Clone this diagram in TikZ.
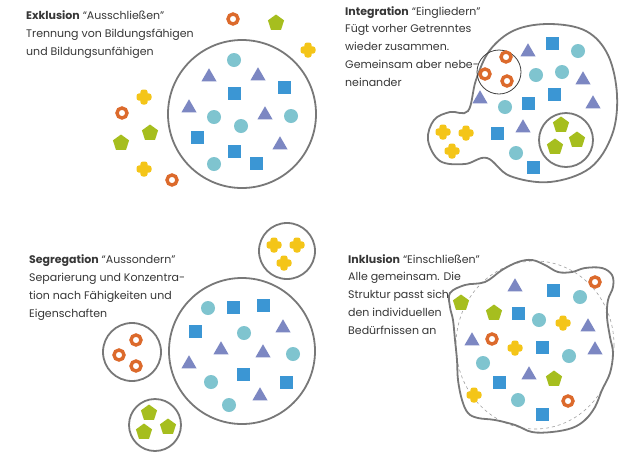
\documentclass[tikz,border=0pt]{standalone}
\usepackage{fontspec}
\setmainfont{Poppins}
\usetikzlibrary{shapes.geometric}
\definecolor{tuerkis}{RGB}{127,196,207}
\definecolor{blau}{RGB}{59,150,212}
\definecolor{lila}{RGB}{124,135,194}
\definecolor{rost}{RGB}{220,106,44}
\definecolor{gruen}{RGB}{166,190,30}
\definecolor{gelb}{RGB}{244,197,24}
\definecolor{randgrau}{RGB}{120,120,120}
\definecolor{schrift}{RGB}{55,55,55}

\begin{document}
\begin{tikzpicture}[x=1pt,y=-1pt,
  kreis/.style={circle,fill=tuerkis,inner sep=0pt,minimum size=14pt},
  quadrat/.style={rectangle,fill=blau,inner sep=0pt,minimum size=13pt},
  dreieck/.style={regular polygon,regular polygon sides=3,fill=lila,inner sep=0pt,minimum size=17.5pt},
  ring/.style={circle,draw=rost,line width=3.4pt,inner sep=0pt,minimum size=10pt},
  fuenfeck/.style={regular polygon,regular polygon sides=5,fill=gruen,inner sep=0pt,minimum size=17pt},
  kreuz/.pic={
    \fill[gelb,rounded corners=2.5pt] (-3.6,-7.5) rectangle (3.6,7.5);
    \fill[gelb,rounded corners=2.5pt] (-7.5,-3.6) rectangle (7.5,3.6);
  },
  rand/.style={draw=randgrau,line width=1.8pt},
  %% anchored at the baseline of the last line
  beschreibung/.style={anchor=base west,inner sep=0pt,align=left,text=schrift,
    font=\fontsize{11}{17.7}\selectfont}
]
  \path[fill=white,use as bounding box] (0,0) rectangle (623,456);

  %% Exklusion
  \node[beschreibung] (extext) at (26,55)
    {\textbf{Exklusion} “Ausschließen”\\Trennung von Bildungsfähigen\\und Bildungsunfähigen};
  \draw[rand] (242,114) circle (74);
  \foreach \x/\y [count=\i] in {234/60,214/117,291/116,241/126,214/164}
    \node[kreis] (ex-kreis\i) at (\x,\y) {};
  \foreach \x/\y [count=\i] in {284/87,234/93,197/137,234/151,256/163}
    \node[quadrat] (ex-quadrat\i) at (\x,\y) {};
  \foreach \x/\y [count=\i] in {209/77,258/76,189/108,265/115,280/145}
    \node[dreieck] (ex-dreieck\i) at (\x,\y) {};
  \foreach \x/\y [count=\i] in {233/19,122/113,172/180}
    \node[ring] (ex-ring\i) at (\x,\y) {};
  \foreach \x/\y [count=\i] in {276/23,150/133,121/143}
    \node[fuenfeck] (ex-fuenfeck\i) at (\x,\y) {};
  \foreach \x/\y in {308/50,144/97,144/169}
    \pic at (\x,\y) {kreuz};

  %% Integration
  \node[beschreibung] (intext) at (345,86)
    {\textbf{Integration} “Eingliedern”\\Fügt vorher Getrenntes\\wieder zusammen.\\Gemeinsam aber nebe-\\neinander};
  \draw[rand] plot[smooth cycle,tension=0.6] coordinates {
    (468,111) (476,80) (490,50) (515,30) (550,24) (586,31) (608,55) (617,95)
    (612,135) (590,168) (550,182) (510,176) (487,158) (465,164) (440,161)
    (428,140) (434,120) (450,112)};
  \draw[black!75,line width=0.8pt] (499,72) circle (22);
  \draw[rand] (566,140) circle (27);
  \foreach \x/\y [count=\i] in {578/51,536/75,562/72,505/107,516/153}
    \node[kreis] (in-kreis\i) at (\x,\y) {};
  \foreach \x/\y [count=\i] in {552/43,554/94,528/103,497/133,533/167}
    \node[quadrat] (in-quadrat\i) at (\x,\y) {};
  \foreach \x/\y [count=\i] in {528/52,583/80,480/99,593/104,523/128}
    \node[dreieck] (in-dreieck\i) at (\x,\y) {};
  \foreach \x/\y [count=\i] in {506/57,485/74,507/81}
    \node[ring] (in-ring\i) at (\x,\y) {};
  \foreach \x/\y [count=\i] in {561/125,555/147,577/140}
    \node[fuenfeck] (in-fuenfeck\i) at (\x,\y) {};
  \foreach \x/\y in {443/132,466/133,452/151}
    \pic at (\x,\y) {kreuz};

  %% Segregation
  \node[beschreibung] (segtext) at (29,317)
    {\textbf{Segregation} “Aussondern”\\Separierung und Konzentra-\\tion nach Fähigkeiten und\\Eigenschaften};
  \draw[rand] (242,351) circle (73);
  \draw[rand] (287,251) circle (28);
  \draw[rand] (132,352) circle (29);
  \draw[rand] (155,425) circle (26);
  \foreach \x/\y [count=\i] in {208/308,244/333,293/354,211/382,229/405}
    \node[kreis] (seg-kreis\i) at (\x,\y) {};
  \foreach \x/\y [count=\i] in {233/307,263/305,195/331,243/374,286/382}
    \node[quadrat] (seg-quadrat\i) at (\x,\y) {};
  \foreach \x/\y [count=\i] in {283/328,221/350,263/353,189/364,260/396}
    \node[dreieck] (seg-dreieck\i) at (\x,\y) {};
  \foreach \x/\y [count=\i] in {136/340,119/355,136/366}
    \node[ring] (seg-ring\i) at (\x,\y) {};
  \foreach \x/\y [count=\i] in {149/413,168/427,144/432}
    \node[fuenfeck] (seg-fuenfeck\i) at (\x,\y) {};
  \foreach \x/\y in {274/245,297/245,284/263}
    \pic at (\x,\y) {kreuz};

  %% Inklusion
  \node[beschreibung] (inktext) at (348,334)
    {\textbf{Inklusion} “Einschließen”\\Alle gemeinsam. Die\\Struktur passt sich\\den individuellen\\Bedürfnissen an};
  \draw[randgrau!70,dashed,line width=0.6pt] (535,345) ellipse (79 and 84);
  \draw[rand] plot[smooth cycle,tension=0.6] coordinates {
    (450,293) (465,285) (485,282) (502,270) (518,262) (532,260) (545,265)
    (558,272) (572,272) (585,268) (602,268) (612,275) (613,287) (608,300)
    (607,317) (610,337) (613,353) (610,373) (602,390) (595,407) (585,420)
    (572,428) (552,432) (532,432) (515,425) (495,420) (478,418) (468,413)
    (462,400) (458,380) (457,360) (455,340) (453,320) (450,307)};
  \foreach \x/\y [count=\i] in {580/297,539/320,569/356,483/363,518/400}
    \node[kreis] (ink-kreis\i) at (\x,\y) {};
  \foreach \x/\y [count=\i] in {553/290,518/313,542/347,499/382,542/414}
    \node[quadrat] (ink-quadrat\i) at (\x,\y) {};
  \foreach \x/\y [count=\i] in {515/287,588/327,472/341,595/350,529/375}
    \node[dreieck] (ink-dreieck\i) at (\x,\y) {};
  \foreach \x/\y [count=\i] in {595/282,492/339,568/401}
    \node[ring] (ink-ring\i) at (\x,\y) {};
  \foreach \x/\y [count=\i] in {461/303,494/313,554/379}
    \node[fuenfeck] (ink-fuenfeck\i) at (\x,\y) {};
  \foreach \x/\y in {563/323,515/348,474/395}
    \pic at (\x,\y) {kreuz};
\end{tikzpicture}
\end{document}
